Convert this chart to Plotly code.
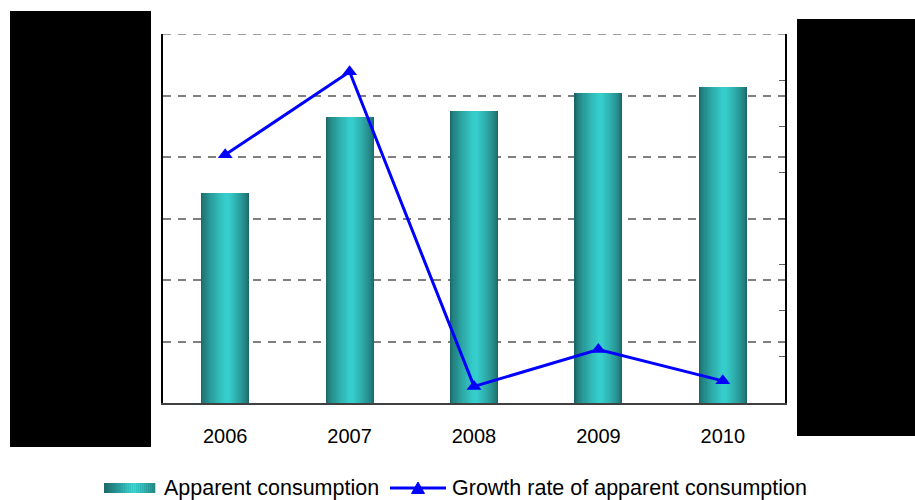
import plotly.graph_objects as go

# ---------------- data ----------------
years = ["2006", "2007", "2008", "2009", "2010"]
apparent_consumption = [170.7, 232.5, 237.4, 252.0, 257.0]
growth_rate = [26.9, 35.9, 1.8, 5.8, 2.4]
left_ticks = [0, 50, 100, 150, 200, 250, 300]
right_ticks = [0, 5, 10, 15, 20, 25, 30, 35, 40]
right_labels = [f"{v}%" for v in right_ticks]

# ---------------- layout helpers ----------------
W, H = 915, 500
L, R, T, B = 163, 785, 34, 403   # plot area in page pixels
PW, PH = R - L, B - T
GRID_DASH = "8px,7px"


def px(x):
    return (x - L) / PW


def py(y):
    return (B - y) / PH


def mix(c1, c2, t):
    return "rgb({},{},{})".format(*[round(a + (b - a) * t) for a, b in zip(c1, c2)])


dark = (28, 104, 104)
bright = (54, 206, 204)

fig = go.Figure()

# gradient bars: nested overlaid bars
N = 22
BW = 0.386
for i in range(N):
    t = i / (N - 1)
    w = BW * (1 - t * 0.92)
    shift = 0.012 * t
    fig.add_trace(go.Bar(
        x=years, y=apparent_consumption,
        width=w, offset=-w / 2 + shift,
        marker=dict(color=mix(dark, bright, t ** 0.7), line=dict(width=0)),
        showlegend=False, hoverinfo="skip" if i else "y",
        name="Apparent consumption", yaxis="y",
    ))

fig.add_trace(go.Scatter(
    x=years, y=growth_rate, mode="lines+markers", yaxis="y2",
    line=dict(color="#0000ff", width=3),
    marker=dict(symbol="triangle-up", size=13, color="#0000ff"),
    name="Growth rate of apparent consumption", showlegend=False,
))

shapes = []
# top gridline (at the upper end of the left axis)
shapes.append(dict(type="line", xref="paper", yref="y", x0=0, x1=1,
                   y0=left_ticks[-1], y1=left_ticks[-1],
                   line=dict(color="#7f7f7f", width=1.5, dash=GRID_DASH), layer="below"))
# manual legend: gradient rectangle
lx0, lx1, ly0, ly1 = 104, 155, 483, 493
steps = 26
for k in range(steps):
    a = lx0 + (lx1 - lx0) * k / steps
    b = lx0 + (lx1 - lx0) * (k + 1) / steps
    c = (k + 0.5) / steps
    t = 1 - abs(c - 0.58) / 0.58
    t = max(0, min(1, t))
    shapes.append(dict(type="rect", xref="paper", yref="paper",
                       x0=px(a), x1=px(b) + 0.0005, y0=py(ly1), y1=py(ly0),
                       fillcolor=mix(dark, bright, t), line=dict(width=0), layer="above"))
# legend line + triangle
shapes.append(dict(type="line", xref="paper", yref="paper",
                   x0=px(390), x1=px(446), y0=py(488), y1=py(488),
                   line=dict(color="#0000ff", width=3), layer="above"))
tri = "M {} {} L {} {} L {} {} Z".format(px(411.5), py(493.5), px(424.5), py(493.5), px(418), py(482))
shapes.append(dict(type="path", xref="paper", yref="paper", path=tri,
                   fillcolor="#0000ff", line=dict(color="#0000ff", width=1), layer="above"))
# black boxes covering the axis labels
shapes.append(dict(type="rect", xref="paper", yref="paper",
                   x0=px(10), x1=px(151), y0=py(447), y1=py(11),
                   fillcolor="black", line=dict(width=0), layer="above"))
shapes.append(dict(type="rect", xref="paper", yref="paper",
                   x0=px(797), x1=px(920), y0=py(436), y1=py(19),
                   fillcolor="black", line=dict(width=0), layer="above"))

font_main = "Liberation Sans, Arial, sans-serif"
annotations = [
    dict(text="Apparent consumption", xref="paper", yref="paper", x=px(162), y=py(488),
         xanchor="left", yanchor="middle", showarrow=False,
         font=dict(family=font_main, size=21.5, color="black")),
    dict(text="Growth rate of apparent consumption", xref="paper", yref="paper", x=px(450), y=py(488),
         xanchor="left", yanchor="middle", showarrow=False,
         font=dict(family=font_main, size=21.5, color="black")),
]

fig.update_layout(
    width=W, height=H,
    margin=dict(l=L, r=W - R, t=T, b=H - B, pad=0),
    paper_bgcolor="white", plot_bgcolor="white",
    barmode="overlay", bargap=0,
    showlegend=False,
    font=dict(family=font_main, color="black", size=20),
    xaxis=dict(type="category", showgrid=False, ticks="", showline=True,
               linecolor="#404040", linewidth=2, tickfont=dict(size=20), ticklabelstandoff=14,
               range=[-0.5, 4.5]),
    yaxis=dict(range=[0, 300], tickvals=left_ticks, showgrid=True, gridcolor="#7f7f7f",
               griddash=GRID_DASH, gridwidth=1.5, showline=True, linecolor="black", linewidth=1.5,
               ticks="", zeroline=False, ticklabelstandoff=18,
               tickfont=dict(size=14)),
    yaxis2=dict(range=[0, 40], tickvals=right_ticks, ticktext=right_labels, overlaying="y",
                side="right", showgrid=False, showline=True, linecolor="black", linewidth=1.5,
                ticks="inside", ticklen=6, tickcolor="#606060", zeroline=False,
                ticklabelstandoff=18, tickfont=dict(size=14)),
    shapes=shapes,
    annotations=annotations,
)

fig.write_html("out.html", config={"displayModeBar": False},
               post_script="document.body.style.margin='0';document.body.style.overflow='hidden';")
